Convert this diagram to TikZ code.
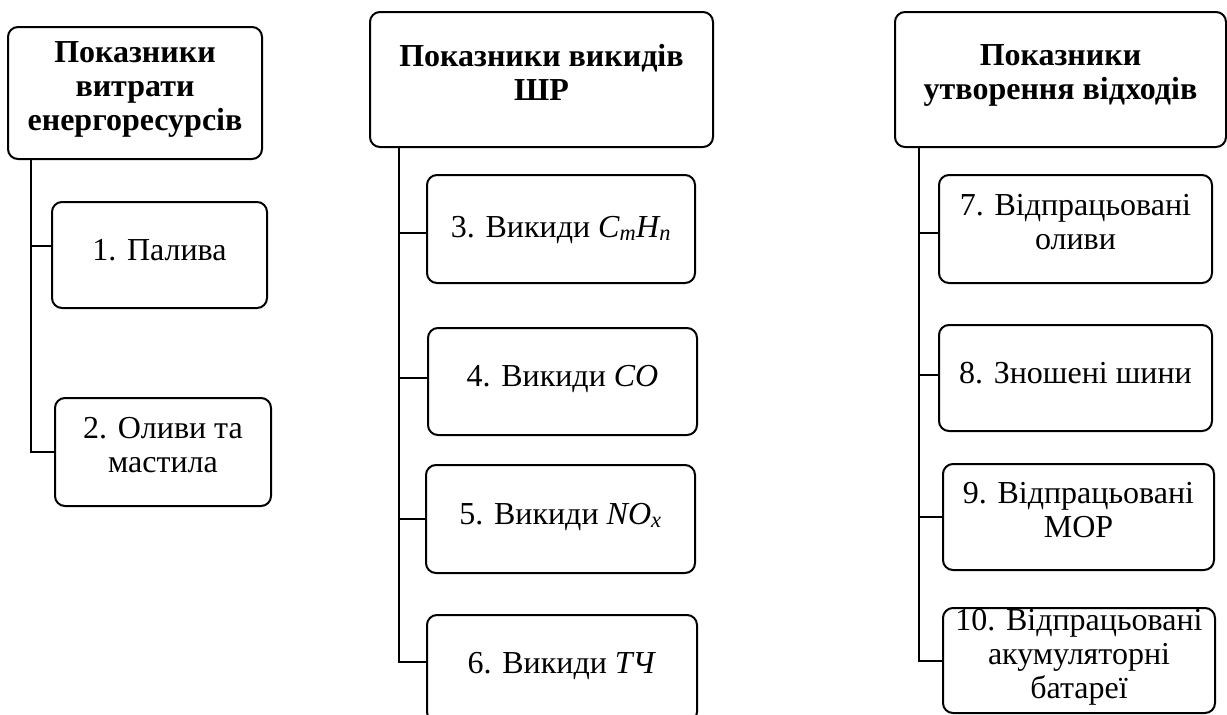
\documentclass[tikz,border=0pt]{standalone}
\usepackage{fontspec}
\setmainfont{Liberation Serif}
\begin{document}
\begin{tikzpicture}[x=1pt,y=-1pt,
  % invisible struts on the first and last line fix where the text sits in its box
  txtpos/.style 2 args={execute at begin node={\rule{0pt}{#1}},
    execute at end node={\rule[-#2]{0pt}{#2}}},
  box/.style={draw, line width=2pt, rounded corners=10pt, align=center,
    inner sep=0pt, font=\fontsize{32}{34}\selectfont, txtpos={24pt}{14pt}},
  head/.style={box, font=\fontsize{32}{34}\selectfont\bfseries},
  link/.style={line width=2pt}]
\useasboundingbox (0,0) rectangle (1227,715);
\clip (0,0) rectangle (1227,715);

% group 1: energy consumption
\node[head, txtpos={22pt}{7pt}, minimum width=254pt, minimum height=132pt] (h1) at (135,93)
  {Показники\\витрати\\енергоресурсів};
\node[box, minimum width=215pt, minimum height=106pt] (b1) at (159.5,255) {1. Палива};
\node[box, minimum width=216pt, minimum height=108pt] (b2) at (163,452) {2. Оливи та\\мастила};

% group 2: harmful emissions
\node[head, minimum width=343pt, minimum height=135pt] (h2) at (541.5,79.5)
  {Показники викидів\\ШР};
\node[box, txtpos={30pt}{10pt}, minimum width=268pt, minimum height=108pt] (b3) at (561,229)
  {3. Викиди \textit{C\textsubscript{m}H\textsubscript{n}}};
\node[box, minimum width=269pt, minimum height=107pt] (b4) at (562.5,381.5)
  {4. Викиди \textit{CO}};
\node[box, minimum width=269pt, minimum height=108pt] (b5) at (560.5,519)
  {5. Викиди \textit{NO\textsubscript{x}}};
\node[box, minimum width=270pt, minimum height=107pt] (b6) at (562,668.5)
  {6. Викиди \textit{ТЧ}};

% group 3: waste generation
\node[head, minimum width=331pt, minimum height=135pt] (h3) at (1060.5,79.5)
  {Показники\\утворення відходів};
\node[box, minimum width=273pt, minimum height=108pt] (b7) at (1075.5,229)
  {7. Відпрацьовані\\оливи};
\node[box, minimum width=273pt, minimum height=106pt] (b8) at (1075.5,378)
  {8. Зношені шини};
\node[box, minimum width=271pt, minimum height=106pt] (b9) at (1078.5,517)
  {9. Відпрацьовані\\МОР};
\node[box, txtpos={22pt}{7pt}, minimum width=272pt, minimum height=105pt] (b10) at (1079,660.5)
  {10. Відпрацьовані\\акумуляторні\\батареї};

% trunk positions
\coordinate (k1) at (31,0);
\coordinate (k2) at (399,0);
\coordinate (k3) at (919,0);

% branch attachment points on the left sides of the boxes
\coordinate (p1) at ([yshift=9pt]b1.west);
\coordinate (p2) at (b2.west);
\coordinate (p3) at ([yshift=-4pt]b3.west);
\coordinate (p4) at ([yshift=4pt]b4.west);
\coordinate (p5) at (b5.west);
\coordinate (p6) at ([yshift=7pt]b6.west);
\coordinate (p7) at ([yshift=-4pt]b7.west);
\coordinate (p8) at ([yshift=3pt]b8.west);
\coordinate (p9) at (b9.west);
\coordinate (p10) at (b10.west);

% connectors
\draw[link] (h1.south -| k1) |- (p2);
\draw[link] (k1 |- p1) -- (p1);

\draw[link] (h2.south -| k2) |- (p6);
\draw[link] (k2 |- p3) -- (p3);
\draw[link] (k2 |- p4) -- (p4);
\draw[link] (k2 |- p5) -- (p5);

\draw[link] (h3.south -| k3) |- (p10);
\draw[link] (k3 |- p7) -- (p7);
\draw[link] (k3 |- p8) -- (p8);
\draw[link] (k3 |- p9) -- (p9);
\end{tikzpicture}
\end{document}
